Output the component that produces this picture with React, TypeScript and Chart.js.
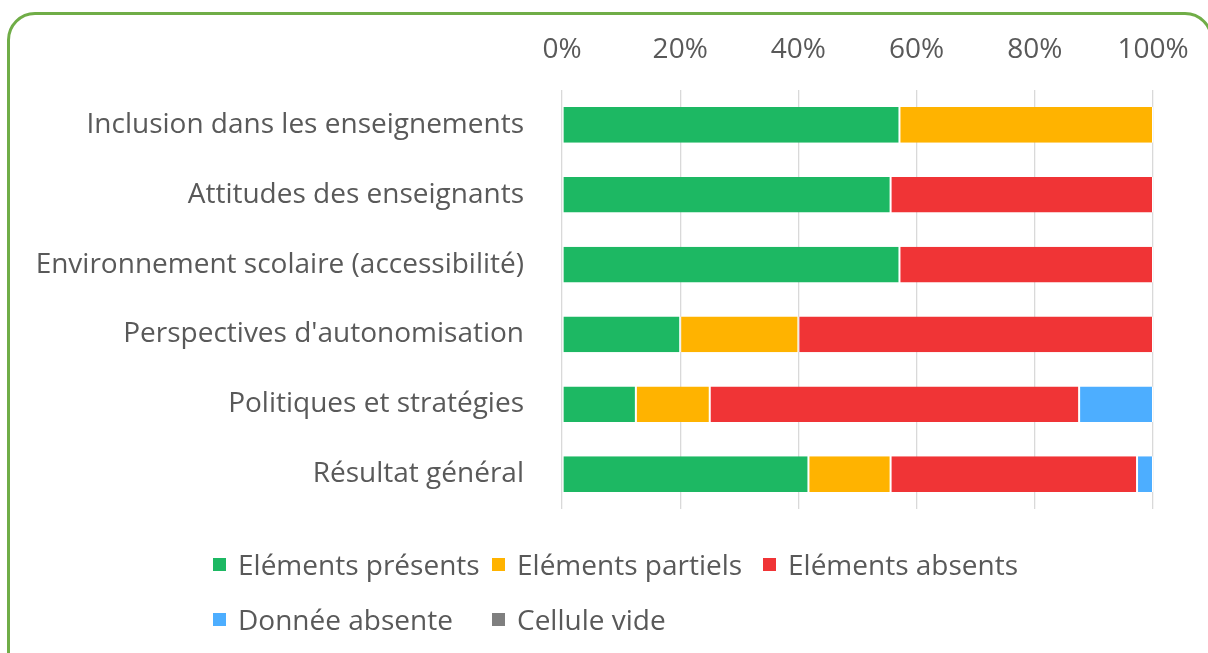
import React, { useEffect, useRef } from "react";
import { Chart, registerables } from "chart.js";

Chart.register(...registerables);

const categories = [
  "Inclusion dans les enseignements",
  "Attitudes des enseignants",
  "Environnement scolaire (accessibilité)",
  "Perspectives d'autonomisation",
  "Politiques et stratégies",
  "Résultat général",
];
const seriesNames = [
  "Eléments présents",
  "Eléments partiels",
  "Eléments absents",
  "Donnée absente",
  "Cellule vide",
];
const seriesColors = ["#1DB863", "#FFB300", "#F03436", "#4DAEFF", "#7F7F7F"];
const present = [57.1, 55.6, 57.1, 20.0, 12.5, 41.7];
const partial = [42.9, 0, 0, 20.0, 12.5, 13.9];
const absent = [0, 44.4, 42.9, 60.0, 62.5, 41.7];
const missing = [0, 0, 0, 0, 12.5, 2.7];
const empty = [0, 0, 0, 0, 0, 0];
const tickValues = [0, 20, 40, 60, 80, 100];

const FONT = "'Open Sans', sans-serif";
const TEXT = "#595959";
const FS = 28;

export default function App() {
  const ref = useRef<HTMLCanvasElement | null>(null);

  useEffect(() => {
    if (!ref.current) return;
    const values = [present, partial, absent, missing, empty];
    const chart = new Chart(ref.current, {
      type: "bar",
      data: {
        labels: categories,
        datasets: values.map((v, i) => ({
          label: seriesNames[i],
          data: v,
          backgroundColor: seriesColors[i],
          borderColor: "#ffffff",
          borderWidth: { left: 1, right: 1, top: 0, bottom: 0 },
          borderSkipped: false,
          barPercentage: 0.51,
          categoryPercentage: 1,
        })),
      },
      options: {
        indexAxis: "y",
        animation: false,
        responsive: false,
        maintainAspectRatio: false,
        layout: { padding: { left: 0, right: 55, top: 0, bottom: 144 } },
        plugins: { legend: { display: false }, tooltip: { enabled: false } },
        scales: {
          x: {
            position: "top",
            stacked: true,
            min: 0,
            max: 100,
            afterBuildTicks: (s: any) => {
              s.ticks = tickValues.map((v) => ({ value: v }));
            },
            afterFit: (s: any) => {
              s.height = 90;
              s.paddingRight = 0;
              s.paddingLeft = 0;
            },
            ticks: {
              callback: (v: any) => v + "%",
              color: TEXT,
              font: { family: FONT, size: FS },
              padding: 23,
            },
            grid: { color: "#D9D9D9", lineWidth: 1.3, drawTicks: false },
            border: { display: false },
          },
          y: {
            stacked: true,
            afterFit: (s: any) => {
              s.width = 562;
            },
            ticks: {
              color: TEXT,
              font: { family: FONT, size: FS },
              padding: 38,
            },
            grid: { display: false, drawTicks: false },
            border: { display: false },
          },
        },
      },
    });
    return () => chart.destroy();
  }, []);

  const sq = (c: string) => (
    <span
      style={{
        display: "inline-block",
        width: 13,
        height: 13,
        background: c,
        marginRight: 12,
        flex: "none",
      }}
    />
  );

  return (
    <div
      style={{
        position: "fixed",
        left: 0,
        top: 0,
        width: 1208,
        height: 653,
        overflow: "hidden",
        background: "#fff",
      }}
    >
      <div
        style={{
          position: "absolute",
          left: 7,
          top: 12,
          width: 1206,
          height: 700,
          border: "3px solid #70AD47",
          borderRadius: 28,
          boxSizing: "border-box",
        }}
      />
      <canvas
        ref={ref}
        width={1208}
        height={653}
        style={{ position: "absolute", left: 0, top: 0, width: 1208, height: 653 }}
      />
      <div
        style={{
          position: "absolute",
          left: 213,
          top: 545,
          display: "grid",
          gridTemplateColumns: "279px 271px auto",
          rowGap: 17,
          fontFamily: FONT,
          fontSize: FS,
          color: TEXT,
          lineHeight: "38px",
          whiteSpace: "nowrap",
        }}
      >
        {seriesNames.map((n, i) => (
          <div key={n} style={{ display: "flex", alignItems: "center" }}>
            {sq(seriesColors[i])}
            <span>{n}</span>
          </div>
        ))}
      </div>
    </div>
  );
}
